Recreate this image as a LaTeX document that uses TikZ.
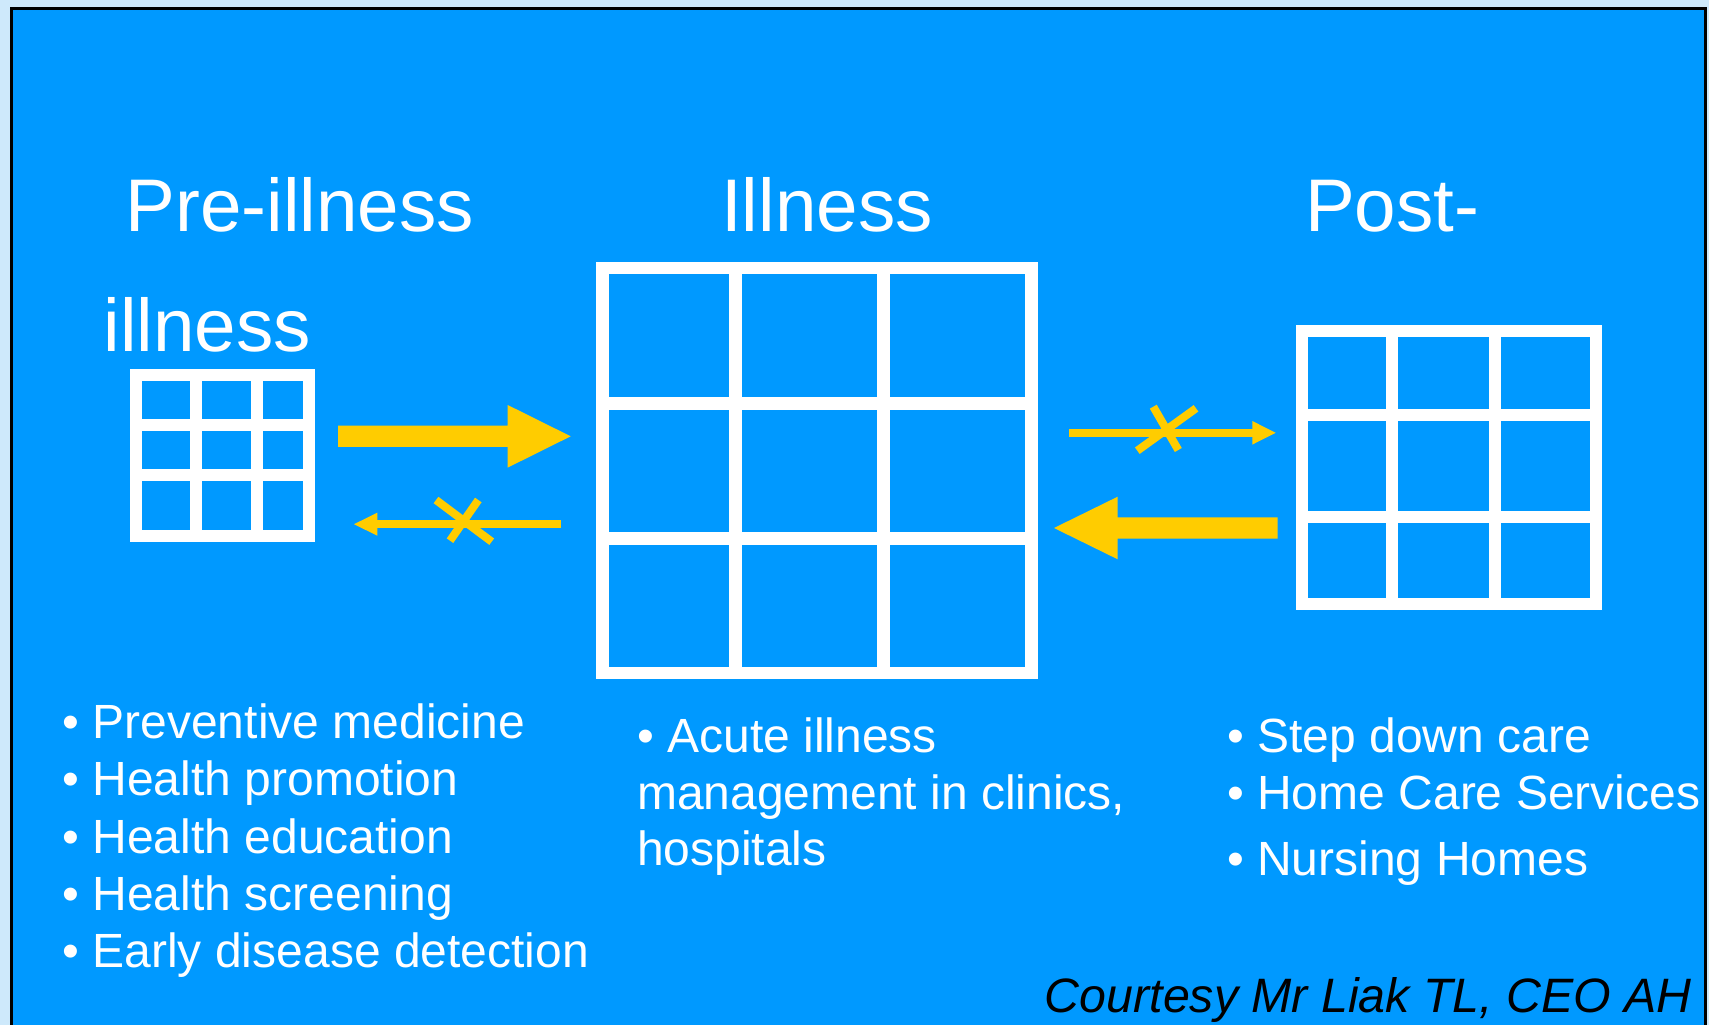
\documentclass[tikz,border=0pt]{standalone}
\usepackage{fontspec}
\usetikzlibrary{calc}
\setmainfont{Liberation Sans}
\definecolor{bgblue}{RGB}{0,153,255}
\definecolor{paleblue}{RGB}{206,233,251}
\definecolor{arrowyellow}{RGB}{255,204,0}
\tikzset{
  gridline/.style={draw=white, line join=miter},
  titletext/.style={anchor=base west, inner sep=0pt, text=white, font=\fontsize{74.6}{80}\selectfont},
  listtext/.style={anchor=base west, inner sep=0pt, text=white, font=\fontsize{48}{56}\selectfont},
  thinarrow/.style={draw=arrowyellow, line width=7.7pt},
  crossstroke/.style={draw=arrowyellow, line width=8pt},
  blockarrow/.style={fill=arrowyellow},
}
\begin{document}
\begin{tikzpicture}[x=1pt,y=-1pt]
\useasboundingbox (0,0) rectangle (1709,1025);
\fill[paleblue] (0,0) rectangle (1709,1025);
\filldraw[fill=bgblue, draw=black, line width=2.7pt] (11.3,8.6) rectangle (1705.8,1040);

% titles
\node[titletext] (tpre) at (125.5,231.7) {Pre-illness};
\node[titletext] (tpre2) at (103.5,351.7) {illness};
\node[titletext] (till) at (721,231.7) {Illness};
\node[titletext] (tpost) at (1305,231.7) {Post-};

% left grid
\node[gridline, line width=12pt, inner sep=0pt, minimum width=173.2pt, minimum height=160.4pt] (gpre) at (222.1,455.5) {};
\draw[gridline, line width=12pt] (196,375.3) -- (196,535.7) (256.7,375.3) -- (256.7,535.7)
  (135.5,425.2) -- (308.7,425.2) (135.5,475.3) -- (308.7,475.3);

% center grid
\node[gridline, line width=12.7pt, inner sep=0pt, minimum width=429pt, minimum height=405pt] (gill) at (816.8,470.5) {};
\draw[gridline, line width=12.7pt] (735.8,268) -- (735.8,673) (883.8,268) -- (883.8,673)
  (602.3,403.2) -- (1031.3,403.2) (602.3,538.2) -- (1031.3,538.2);

% right grid
\node[gridline, line width=12pt, inner sep=0pt, minimum width=294.1pt, minimum height=273.5pt] (gpost) at (1449.25,467.55) {};
\draw[gridline, line width=12pt] (1392.2,330.8) -- (1392.2,604.3) (1495,330.8) -- (1495,604.3)
  (1302.2,414.7) -- (1596.3,414.7) (1302.2,517.3) -- (1596.3,517.3);

% arrow anchor coordinates
\coordinate (a1s) at (338,436.3);
\coordinate (a1t) at (570.7,436.3);
\coordinate (a2s) at (560.7,524.2);
\coordinate (a2t) at (354,524.2);
\coordinate (a3s) at (1069,432.8);
\coordinate (a3t) at (1275.7,432.8);
\coordinate (a4s) at (1277.7,528);
\coordinate (a4t) at (1054,528);

% big arrow pre -> illness
\fill[blockarrow] ($(a1s)+(0,-10.65)$) -- (507.7,425.65) -- (507.7,405) -- (a1t) -- (507.7,467.6) -- (507.7,446.95) -- ($(a1s)+(0,10.65)$) -- cycle;
% big arrow post -> illness
\fill[blockarrow] ($(a4s)+(0,-10.7)$) -- (1117.7,517.3) -- (1117.7,496.7) -- (a4t) -- (1117.7,559.3) -- (1117.7,538.7) -- ($(a4s)+(0,10.7)$) -- cycle;

% thin crossed arrow illness -> pre
\draw[thinarrow] (a2s) -- (376,524.2);
\fill[blockarrow] (377.3,512.7) -- (a2t) -- (377.3,535.7) -- cycle;
\draw[crossstroke] (436,500) -- (491.7,541.7);
\draw[crossstroke] (478.3,500) -- (450,540.7);

% thin crossed arrow illness -> post
\draw[thinarrow] (a3s) -- (1253.5,432.8);
\fill[blockarrow] (1252.3,421) -- (a3t) -- (1252.3,444.6) -- cycle;
\draw[crossstroke] (1153.3,406.7) -- (1178.3,450);
\draw[crossstroke] (1196,408.3) -- (1137.3,450.7);

% lists
\node[listtext] (l1) at (62.3,738.4) {• Preventive medicine};
\node[listtext] (l2) at (62.3,795.7) {• Health promotion};
\node[listtext] (l3) at (62.3,853) {• Health education};
\node[listtext] (l4) at (62.3,910.3) {• Health screening};
\node[listtext] (l5) at (62.3,967.6) {• Early disease detection};

\node[listtext] (c1) at (637,752.7) {• Acute illness};
\node[listtext] (c2) at (637,809) {management in clinics,};
\node[listtext] (c3) at (637,865.7) {hospitals};

\node[listtext] (r1) at (1227,752.7) {• Step down care};
\node[listtext] (r2) at (1227,809) {• Home Care Services};
\node[listtext] (r3) at (1227,875) {• Nursing Homes};

\node[anchor=base east, inner sep=0pt, text=black, font=\fontsize{48.3}{54}\selectfont\itshape] (court) at (1692,1012) {Courtesy Mr Liak TL, CEO AH};
\end{tikzpicture}
\end{document}
